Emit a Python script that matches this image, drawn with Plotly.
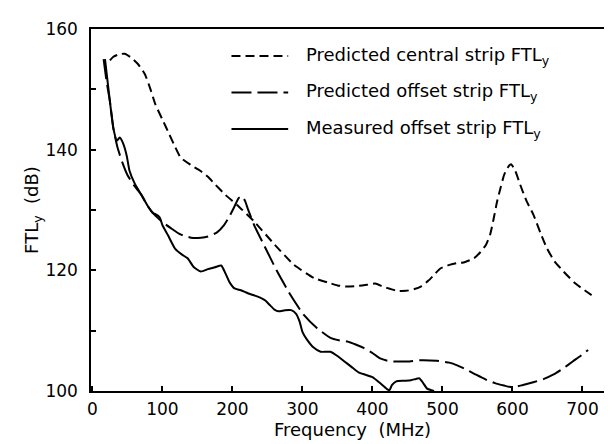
import plotly.graph_objects as go

# ---- data ----
central_f = [25, 30, 38, 46, 55, 65, 75, 83, 90, 100, 110, 118, 126, 140, 154, 165, 174, 190, 207, 231,
             260, 288, 317, 336, 350, 364, 378, 392, 404, 415, 426, 435, 448, 460, 469, 480, 490, 497,
             510, 520, 530, 545, 554, 562, 568, 573, 578, 583, 588, 593, 598, 604, 611, 620, 630, 640,
             649, 660, 673, 690, 713]
central_v = [154.8, 155.4, 155.8, 155.9, 155.3, 154.2, 152.5, 150.0, 147.5, 145.0, 142.5, 140.5, 138.7,
             137.5, 136.5, 135.5, 134.4, 132.5, 130.8, 128.1, 124.3, 120.9, 118.7, 118.0, 117.5, 117.3,
             117.4, 117.6, 117.8, 117.3, 116.9, 116.6, 116.6, 116.9, 117.3, 118.3, 119.5, 120.3, 120.9,
             121.2, 121.3, 122.0, 123.0, 124.2, 125.9, 128.5, 131.4, 133.7, 135.8, 137.0, 137.6, 136.5,
             134.2, 131.5, 129.2, 126.2, 123.7, 121.5, 119.8, 117.8, 115.9]

offset_f = [16, 20, 25, 30, 36, 43, 50, 60, 70, 80, 89, 100, 112, 125, 141, 155, 165, 178, 188, 196,
            203, 209, 214, 218, 222, 231, 245, 264, 283, 302, 321, 340, 352, 364, 376, 388, 400, 411,
            422, 431, 450, 468, 492, 510, 522, 535, 548, 562, 575, 588, 600, 615, 631, 645, 658, 672,
            686, 697, 708]
offset_v = [155.0, 151.5, 148.0, 143.5, 140.3, 137.8, 135.8, 134.0, 132.5, 130.5, 129.2, 128.0, 127.0,
            126.0, 125.4, 125.4, 125.6, 126.3, 127.5, 129.0, 130.6, 132.0, 132.3, 131.5, 130.2, 127.5,
            124.2, 119.8, 115.9, 112.6, 110.4, 108.8, 108.4, 108.2, 107.7, 107.1, 106.3, 105.4, 105.0,
            104.9, 104.9, 105.1, 105.0, 104.7, 104.2, 103.5, 102.7, 101.9, 101.3, 100.9, 100.6, 101.0,
            101.5, 102.0, 102.7, 103.7, 104.9, 105.8, 106.8]

measured_f = [18, 24, 30, 35, 39, 44, 49, 53, 60, 70, 80, 86, 90, 96, 100, 108, 118, 128, 136, 145, 155,
              165, 175, 184, 190, 196, 203, 212, 222, 232, 241, 247, 253, 260, 266, 275, 284, 291, 296,
              300, 306, 316, 326, 340, 350, 360, 370, 380, 390, 400, 410, 418, 424, 428, 434, 445, 455,
              462, 467, 472, 478, 488]
measured_v = [155.0, 149.0, 143.5, 141.5, 142.0, 141.0, 139.0, 136.5, 134.5, 132.5, 130.5, 129.5, 129.3,
              128.8, 127.5, 125.8, 123.6, 122.6, 122.0, 120.5, 119.8, 120.2, 120.5, 120.8, 119.5, 118.0,
              117.0, 116.7, 116.2, 115.8, 115.4, 115.0, 114.3, 113.5, 113.2, 113.4, 113.4, 112.8, 111.5,
              109.8, 108.6, 107.2, 106.5, 106.5, 105.8, 104.9, 104.0, 103.1, 102.7, 102.3, 101.4, 100.6,
              100.1, 101.0, 101.6, 101.7, 101.8, 102.0, 102.1, 101.4, 100.4, 100.0]

names = ["Predicted central strip FTL<sub>y</sub>",
         "Predicted offset strip FTL<sub>y</sub>",
         "Measured offset strip FTL<sub>y</sub>"]
dashes = ["9px,5px", "20px,6px", "solid"]

x_ticks = [0, 100, 200, 300, 400, 500, 600, 700]
y_ticks = [100, 120, 140, 160]
y_minor_ticks = [110, 130, 150]

FONT = "DejaVu Sans"

fig = go.Figure()
for fx, fy, dash in [(central_f, central_v, dashes[0]),
                     (offset_f, offset_v, dashes[1]),
                     (measured_f, measured_v, dashes[2])]:
    fig.add_trace(go.Scatter(x=fx, y=fy, mode="lines",
                             line=dict(color="black", width=2, dash=dash,
                                       shape="spline", smoothing=0.5),
                             showlegend=False, hoverinfo="skip"))

# manual legend (paper coordinates)
leg_y = [0.9254, 0.8246, 0.7238]
for name, dash, yy in zip(names, dashes, leg_y):
    fig.add_shape(type="line", xref="paper", yref="paper",
                  x0=0.2686, x1=0.377, y0=yy, y1=yy,
                  line=dict(color="black", width=2, dash=dash))
    fig.add_annotation(xref="paper", yref="paper", x=0.4076, y=yy,
                       text=name, showarrow=False, xanchor="left", yanchor="middle",
                       font=dict(family=FONT, size=18, color="black"))

fig.update_layout(
    width=612, height=444,
    margin=dict(l=83, r=4, t=21, b=61),
    paper_bgcolor="white", plot_bgcolor="white",
    font=dict(family=FONT, size=17, color="black"),
    xaxis=dict(range=[-2, 745], tickvals=x_ticks, ticks="inside", ticklen=5, tickwidth=1.5,
               tickcolor="black", showgrid=False, zeroline=False, showline=True,
               linecolor="black", linewidth=1.5, mirror=True,
               ticklabelstandoff=2, tickfont=dict(family=FONT, size=17),
               title=dict(text="Frequency  (MHz)", standoff=5,
                          font=dict(family=FONT, size=18))),
    yaxis=dict(range=[100, 160], tickvals=y_ticks, ticks="inside",
               ticklen=5, tickwidth=1.5, tickcolor="black", showgrid=False, zeroline=False,
               showline=True, linecolor="black", linewidth=1.5, mirror=True,
               minor=dict(tickvals=y_minor_ticks, ticks="inside", ticklen=5, tickwidth=1.5,
                          tickcolor="black", showgrid=False),
               ticklabelstandoff=8, tickfont=dict(family=FONT, size=17),
               title=dict(text="FTL<sub>y</sub>  (dB)", standoff=2,
                          font=dict(family=FONT, size=18))),
)

fig.write_html("out.html")
